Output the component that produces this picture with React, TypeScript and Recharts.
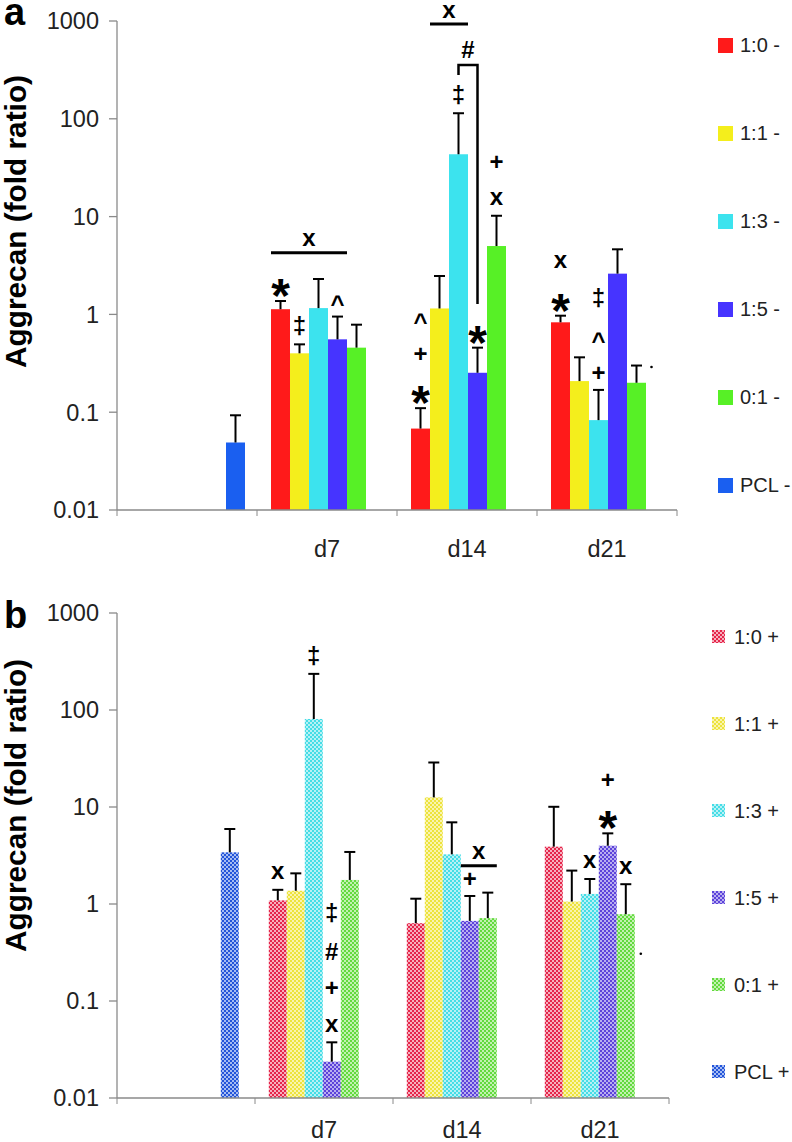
import React from 'react'
import { BarChart, Bar, XAxis, YAxis, Legend, Label } from 'recharts'

// Aggrecan expression (fold ratio), log axis. Two panels: without (-) and with (+) treatment.

const FONT = '"Liberation Sans", Arial, sans-serif'
const AXIS = '#8a8a8a'
const FLOOR = 0.01
const TXT = 23.5
const LEG_TXT = 20

const categories = ['', 'd7', 'd14', 'd21']
const yTicks = [0.01, 0.1, 1, 10, 100, 1000]
const seriesA = ['1:0 -', '1:1 -', '1:3 -', '1:5 -', '0:1 -', 'PCL -']
const seriesB = ['1:0 +', '1:1 +', '1:3 +', '1:5 +', '0:1 +', 'PCL +']

type Num = number | null

// panel a - mean values
const a10: Num[] = [null, 1.13, 0.068, 0.83]
const a11: Num[] = [null, 0.4, 1.15, 0.208]
const a13: Num[] = [null, 1.16, 43.4, 0.083]
const a15: Num[] = [null, 0.556, 0.253, 2.61]
const a01: Num[] = [null, 0.457, 5.0, 0.2]
const aPcl: Num[] = [0.049, null, null, null]
// panel a - upper error
const a10Err: Num[] = [null, 0.24, 0.042, 0.14]
const a11Err: Num[] = [null, 0.094, 1.32, 0.156]
const a13Err: Num[] = [null, 1.14, 70.6, 0.086]
const a15Err: Num[] = [null, 0.394, 0.204, 2.02]
const a01Err: Num[] = [null, 0.328, 5.2, 0.1]
const aPclErr: Num[] = [0.044, null, null, null]

// panel b - mean values
const b10: Num[] = [null, 1.09, 0.634, 3.9]
const b11: Num[] = [null, 1.37, 12.56, 1.06]
const b13: Num[] = [null, 80.8, 3.25, 1.27]
const b15: Num[] = [null, 0.0237, 0.67, 3.99]
const b01: Num[] = [null, 1.77, 0.715, 0.785]
const bPcl: Num[] = [3.41, null, null, null]
// panel b - upper error
const b10Err: Num[] = [null, 0.31, 0.5, 6.15]
const b11Err: Num[] = [null, 0.7, 16.2, 1.15]
const b13Err: Num[] = [null, 155, 3.7, 0.54]
const b15Err: Num[] = [null, 0.0138, 0.54, 1.36]
const b01Err: Num[] = [null, 1.67, 0.595, 0.815]
const bPclErr: Num[] = [2.52, null, null, null]

// significance marks: series index, category index, symbols from bottom up
const marksA = [
  { s: 0, c: 1, sym: ['*'] },
  { s: 1, c: 1, sym: ['‡'] },
  { s: 3, c: 1, sym: ['^'] },
  { s: 0, c: 2, sym: ['*', '+', '^'] },
  { s: 2, c: 2, sym: ['‡'] },
  { s: 3, c: 2, sym: ['*'] },
  { s: 4, c: 2, sym: ['x', '+'] },
  { s: 0, c: 3, sym: ['*', 'x'] },
  { s: 2, c: 3, sym: ['+', '^', '‡'] },
]
const marksB = [
  { s: 0, c: 1, sym: ['x'] },
  { s: 2, c: 1, sym: ['‡'] },
  { s: 3, c: 1, sym: ['x', '+', '#', '‡'] },
  { s: 3, c: 2, sym: ['+'] },
  { s: 2, c: 3, sym: ['x'] },
  { s: 3, c: 3, sym: ['*', '+'] },
  { s: 4, c: 3, sym: ['x'] },
]
// group comparison bars (value level in fold ratio)
const barsA = [
  { c: 1, from: 0, to: 3, at: 4.27, sym: 'x' },
  { c: 2, from: 1, to: 2, at: 931, sym: 'x' },
]
const barsB = [{ c: 2, from: 3, to: 4, at: 2.48, sym: 'x' }]
const bracketsA = [{ c: 2, from: 2, to: 3, at: 355, left: 280, right: 1.28, sym: '#' }]
const dotsA = [{ s: 4, c: 3, at: 0.29 }]
const dotsB = [{ s: 4, c: 3, at: 0.307 }]

const fillsA = ['#FF1A1A', '#F4EE1C', '#3CE3EE', '#4634FF', '#57F026', '#1A5FF0']
const mainB = ['#E5254A', '#EDE33C', '#45DDE6', '#5C43DA', '#62DA3E', '#2354D9']
const lightB = ['#F6AFBE', '#F9F4AE', '#B7F1F5', '#B9AEF0', '#C2F1B1', '#A6BCF2']

// font size, visual centre above baseline (em)
const GLYPH: Record<string, [number, number]> = {
  x: [24, 0.27],
  '+': [24, 0.34],
  '‡': [24, 0.28],
  '^': [24, 0.53],
  '#': [24, 0.35],
  '*': [48, 0.58],
}

function buildRows(means: Num[][], errs: Num[][]) {
  return categories.map((cat, i) => {
    const row: Record<string, any> = { cat }
    means.forEach((m, s) => {
      row[`v${s}`] = m[i]
      row[`e${s}`] = errs[s][i]
    })
    return row
  })
}

const Sym = ({ ch, cx, cy }: { ch: string; cx: number; cy: number }) => {
  const [size, off] = GLYPH[ch] ?? [24, 0.3]
  return (
    <text x={cx} y={cy + off * size} textAnchor="middle" fontFamily={FONT} fontWeight="bold" fontSize={size} fill="#000">
      {ch}
    </text>
  )
}

type Notes = { marks: any[]; bars: any[]; brackets: any[]; dots: any[] }

const makeShape = (s: number, notes: Notes) => (props: any) => {
  const { x, y, width, height, fill, payload } = props
  const v = payload?.[`v${s}`]
  if (v == null || !(height > 0)) return <g />
  const c = categories.indexOf(payload.cat)
  const base = y + height
  const perDecade = height / Math.log10(v / FLOOR)
  const toY = (val: number) => base - Math.log10(val / FLOOR) * perDecade
  const cx = x + width / 2
  const ey = toY(v + (payload[`e${s}`] ?? 0))
  const marks = notes.marks.filter((m) => m.s === s && m.c === c)
  const bars = notes.bars.filter((b) => b.from === s && b.c === c)
  const brackets = notes.brackets.filter((b) => b.from === s && b.c === c)
  const dots = notes.dots.filter((d) => d.s === s && d.c === c)
  return (
    <g>
      <rect x={x} y={y} width={width} height={height} fill={fill} />
      <line x1={cx} x2={cx} y1={y} y2={ey} stroke="#000" strokeWidth={2} />
      <line x1={cx - 5.5} x2={cx + 5.5} y1={ey} y2={ey} stroke="#000" strokeWidth={2} />
      {marks.map((m, k) =>
        m.sym.map((ch: string, j: number) => <Sym key={`${k}-${j}`} ch={ch} cx={cx} cy={ey - 17 - 37 * j} />)
      )}
      {bars.map((b, k) => {
        const ly = toY(b.at)
        const x2 = x + width * (b.to - b.from + 1)
        return (
          <g key={`b${k}`}>
            <line x1={x} x2={x2} y1={ly} y2={ly} stroke="#000" strokeWidth={3} />
            <Sym ch={b.sym} cx={(x + x2) / 2} cy={ly - 13} />
          </g>
        )
      })}
      {brackets.map((b, k) => {
        const top = toY(b.at)
        const xr = cx + width * (b.to - b.from)
        return (
          <g key={`k${k}`}>
            <path
              d={`M${cx},${toY(b.left)} V${top} H${xr} V${toY(b.right)}`}
              fill="none"
              stroke="#000"
              strokeWidth={2.5}
            />
            <Sym ch={b.sym} cx={(cx + xr) / 2} cy={top - 15} />
          </g>
        )
      })}
      {dots.map((d, k) => (
        <circle key={`d${k}`} cx={cx + 15} cy={toY(d.at)} r={1.3} fill="#000" />
      ))}
    </g>
  )
}

const makeXTick = (labelDy: number) => (props: any) => {
  const { x, y, payload, index } = props
  const half = payload?.offset ?? 0
  const last = index === categories.length - 1
  return (
    <g>
      <line x1={x - half} x2={x - half} y1={y} y2={y + 6} stroke={AXIS} />
      {last && <line x1={x + half} x2={x + half} y1={y} y2={y + 6} stroke={AXIS} />}
      {payload?.value ? (
        <text x={x} y={y + labelDy} textAnchor="middle" dominantBaseline="central" fontFamily={FONT} fontSize={TXT} fill="#222">
          {payload.value}
        </text>
      ) : null}
    </g>
  )
}

const makeTitle = (dy: number) => (props: any) => {
  const vb = props.viewBox ?? { y: 0, height: 0 }
  const cy = vb.y + vb.height / 2 + dy
  return (
    <text
      x={26}
      y={cy}
      transform={`rotate(-90 26 ${cy})`}
      textAnchor="middle"
      fontFamily={FONT}
      fontWeight="bold"
      fontSize={29.8}
      fill="#000"
    >
      Aggrecan (fold ratio)
    </text>
  )
}

const makeLegend = (names: string[], box: number, rowH: number, left: number, gap: number) => (props: any) => {
  const items = [...(props.payload ?? [])].sort((p, q) => names.indexOf(p.value) - names.indexOf(q.value))
  return (
    <div style={{ paddingLeft: left }}>
      {items.map((it: any, i: number) => (
        <div key={i} style={{ height: rowH, display: 'flex', alignItems: 'center' }}>
          <svg width={box} height={box} style={{ display: 'block', flex: 'none' }}>
            <rect width={box} height={box} fill={it.color} />
          </svg>
          <span style={{ marginLeft: gap, fontFamily: FONT, fontSize: LEG_TXT, color: '#222', whiteSpace: 'nowrap', lineHeight: 1 }}>
            {it.value}
          </span>
        </div>
      ))}
    </div>
  )
}

type PanelProps = {
  rows: Record<string, any>[]
  names: string[]
  fills: string[]
  notes: Notes
  height: number
  top: number
  bottom: number
  xHeight: number
  legendWidth: number
  legendTop: number
  legendRow: number
  legendBox: number
  legendLeft: number
  legendGap: number
  labelDy: number
  titleDy: number
  defs?: React.ReactNode
}

function Panel(p: PanelProps) {
  return (
    <BarChart
      width={792}
      height={p.height}
      data={p.rows}
      margin={{ top: p.top, right: 0, bottom: p.bottom, left: 0 }}
      barCategoryGap="10%"
      barGap={0}
    >
      {p.defs}
      <XAxis
        dataKey="cat"
        height={p.xHeight}
        interval={0}
        tickSize={0}
        tickMargin={0}
        axisLine={{ stroke: AXIS, strokeWidth: 1.3 }}
        tick={makeXTick(p.labelDy)}
      />
      <YAxis
        scale="log"
        domain={[0.01, 1000]}
        ticks={yTicks}
        interval={0}
        width={117}
        tickSize={8}
        tickMargin={10}
        tickFormatter={(v: number) => String(v)}
        axisLine={{ stroke: AXIS, strokeWidth: 1.3 }}
        tickLine={{ stroke: AXIS, strokeWidth: 1.3 }}
        tick={{ fontFamily: FONT, fontSize: TXT, fill: '#222' }}
        label={<Label content={makeTitle(p.titleDy)} />}
      />
      <Legend
        layout="vertical"
        align="right"
        verticalAlign="top"
        width={p.legendWidth}
        wrapperStyle={{ top: p.legendTop, right: 0 }}
        content={makeLegend(p.names, p.legendBox, p.legendRow, p.legendLeft, p.legendGap)}
      />
      {p.names.map((n, s) => (
        <Bar
          key={n}
          dataKey={`v${s}`}
          name={n}
          fill={p.fills[s]}
          isAnimationActive={false}
          shape={makeShape(s, p.notes)}
        />
      ))}
    </BarChart>
  )
}

const rowsA = buildRows([a10, a11, a13, a15, a01, aPcl], [a10Err, a11Err, a13Err, a15Err, a01Err, aPclErr])
const rowsB = buildRows([b10, b11, b13, b15, b01, bPcl], [b10Err, b11Err, b13Err, b15Err, b01Err, bPclErr])

const patternDefs = (
  <defs>
    {mainB.map((c, i) => (
      <pattern key={i} id={`chk${i}`} width={4} height={4} patternUnits="userSpaceOnUse">
        <rect width={4} height={4} fill={lightB[i]} />
        <rect width={2} height={2} fill={c} />
        <rect x={2} y={2} width={2} height={2} fill={c} />
      </pattern>
    ))}
  </defs>
)

export default function App() {
  return (
    <div style={{ position: 'absolute', left: 0, top: 0, width: 792, height: 1142, background: '#fff', overflow: 'hidden' }}>
      <div style={{ position: 'absolute', left: 0, top: 0 }}>
        <Panel
          rows={rowsA}
          names={seriesA}
          fills={fillsA}
          notes={{ marks: marksA, bars: barsA, brackets: bracketsA, dots: dotsA }}
          height={570}
          top={21}
          bottom={10}
          xHeight={50}
          legendWidth={115}
          legendTop={1}
          legendRow={88}
          legendBox={15}
          legendLeft={41}
          legendGap={7}
          labelDy={39}
          titleDy={-44}
        />
      </div>
      <div style={{ position: 'absolute', left: 0, top: 570 }}>
        <Panel
          rows={rowsB}
          names={seriesB}
          fills={mainB.map((_, i) => `url(#chk${i})`)}
          notes={{ marks: marksB, bars: barsB, brackets: [], dots: dotsB }}
          height={572}
          top={43}
          bottom={4}
          xHeight={40}
          legendWidth={123}
          legendTop={23}
          legendRow={87}
          legendBox={13}
          legendLeft={43}
          legendGap={9}
          labelDy={32}
          titleDy={-50}
          defs={patternDefs}
        />
      </div>
      <svg width={792} height={1142} style={{ position: 'absolute', left: 0, top: 0, pointerEvents: 'none' }}>
        <text x={4} y={25} fontFamily={FONT} fontWeight="bold" fontSize={38} fill="#000">a</text>
        <text x={4} y={628} fontFamily={FONT} fontWeight="bold" fontSize={38} fill="#000">b</text>
      </svg>
    </div>
  )
}
